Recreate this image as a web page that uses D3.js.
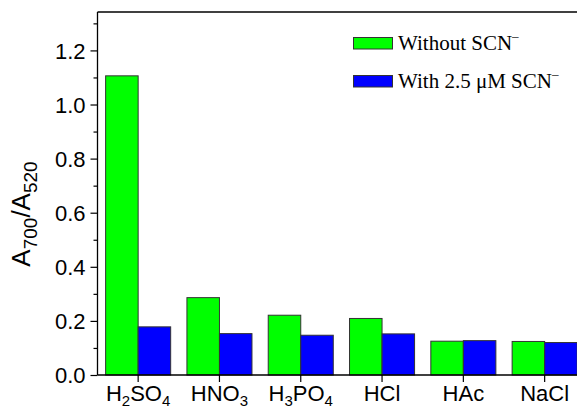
<!DOCTYPE html>
<html>
<head>
<meta charset="utf-8">
<script src="https://cdn.jsdelivr.net/npm/d3@7"></script>
<style>
  html, body { margin: 0; padding: 0; background: #fff; overflow: hidden; }
  svg { display: block; }
</style>
</head>
<body>
<svg id="chart" width="577" height="409"></svg>
<script>
const categories = ["H2SO4", "HNO3", "H3PO4", "HCl", "HAc", "NaCl"];
const withoutSCN = [1.106, 0.286, 0.221, 0.209, 0.125, 0.124];
const withSCN = [0.178, 0.153, 0.147, 0.152, 0.127, 0.120];
const seriesNames = ["Without SCN", "With 2.5 \u03BCM SCN"];
const majorTicks = [0, 0.2, 0.4, 0.6, 0.8, 1.0, 1.2];
const minorTicks = [0.1, 0.3, 0.5, 0.7, 0.9, 1.1, 1.3];
const colors = ["#00ff00", "#0000ff"];

(function () {
const svg = d3.select("#chart");
const pLeft = 97.5, pTop = 12, pBottom = 375, pRight = 585.3;
const sans = "Liberation Sans, Arial, sans-serif";

const x = d3.scaleBand().domain(categories).range([pLeft, pRight]).paddingInner(0.2).paddingOuter(0.1);
const y = d3.scaleLinear().domain([0, 1.342]).range([pBottom, pTop]);
const sub = d3.scaleBand().domain([0, 1]).range([0, x.bandwidth()]);

const series = [withoutSCN, withSCN];
const rows = categories.map((c, i) => ({ c, vals: series.map(s => s[i]) }));

const g = svg.append("g");
rows.forEach(r => {
  r.vals.forEach((v, j) => {
    g.append("rect")
      .attr("x", x(r.c) + sub(j))
      .attr("y", y(v))
      .attr("width", sub.bandwidth())
      .attr("height", y(0) - y(v))
      .attr("fill", colors[j])
      .attr("stroke", "#333")
      .attr("stroke-width", 1);
  });
});

// frame top
svg.append("line").attr("x1", pLeft).attr("x2", 577).attr("y1", pTop).attr("y2", pTop)
  .attr("stroke", "#000").attr("stroke-width", 1.3);

// Y axis
const yAxis = d3.axisLeft(y).tickValues(majorTicks).tickFormat(d3.format(".1f")).tickSize(7).tickPadding(5);
const ya = svg.append("g").attr("transform", `translate(${pLeft},0)`).call(yAxis);
ya.select(".domain").attr("d", `M0,${pTop}V${pBottom}`).attr("stroke-width", 1.3);
ya.selectAll(".tick line").attr("stroke-width", 1.2);
ya.selectAll("text").attr("font-family", sans).attr("font-size", 22).attr("fill", "#000").attr("dy", "0.36em");
const yMinor = d3.axisLeft(y).tickValues(minorTicks).tickFormat("").tickSize(4);
const ym = svg.append("g").attr("transform", `translate(${pLeft},0)`).call(yMinor);
ym.select(".domain").remove();
ym.selectAll(".tick line").attr("stroke-width", 1.2);

// X axis
const xAxis = d3.axisBottom(x).tickSize(7).tickFormat("");
const xa = svg.append("g").attr("transform", `translate(0,${pBottom})`).call(xAxis);
xa.select(".domain").attr("d", `M${pLeft},0H577`).attr("stroke-width", 1.3);
xa.selectAll(".tick line").attr("stroke-width", 1.2);
xa.selectAll(".tick").each(function(d) {
  const t = d3.select(this).append("text")
    .attr("y", 26).attr("text-anchor", "middle").attr("fill", "#000")
    .attr("font-family", sans).attr("font-size", 22);
  const parts = d.match(/[A-Za-z]+|\d+/g);
  let prevSub = false;
  parts.forEach(p => {
    if (/\d/.test(p)) {
      t.append("tspan").attr("font-size", 15).attr("dy", 5).text(p);
      prevSub = true;
    } else {
      t.append("tspan").attr("dy", prevSub ? -5 : 0).text(p);
      prevSub = false;
    }
  });
});

// Y title
const yt = svg.append("text")
  .attr("transform", "translate(30,214) rotate(-90)")
  .attr("text-anchor", "middle")
  .attr("font-family", sans)
  .attr("font-size", 26).attr("fill", "#000");
yt.append("tspan").text("A");
yt.append("tspan").attr("font-size", 19).attr("dy", 7).text("700");
yt.append("tspan").attr("dy", -7).text("/A");
yt.append("tspan").attr("font-size", 19).attr("dy", 7).text("520");

// Legend
const legend = svg.append("g");
seriesNames.forEach((name, i) => {
  const ly = 37.5 + i * 38;
  legend.append("rect").attr("x", 353.5).attr("y", ly).attr("width", 39).attr("height", 11.5)
    .attr("fill", colors[i]).attr("stroke", "#333").attr("stroke-width", 1);
  const t = legend.append("text").attr("x", 398).attr("y", ly + 12)
    .attr("font-family", "Liberation Serif, Times New Roman, serif").attr("font-size", 21).attr("fill", "#000");
  t.append("tspan").text(name);
  t.append("tspan").attr("font-size", 13).attr("dy", -10).text("\u2012");
});
})();
</script>
</body>
</html>
